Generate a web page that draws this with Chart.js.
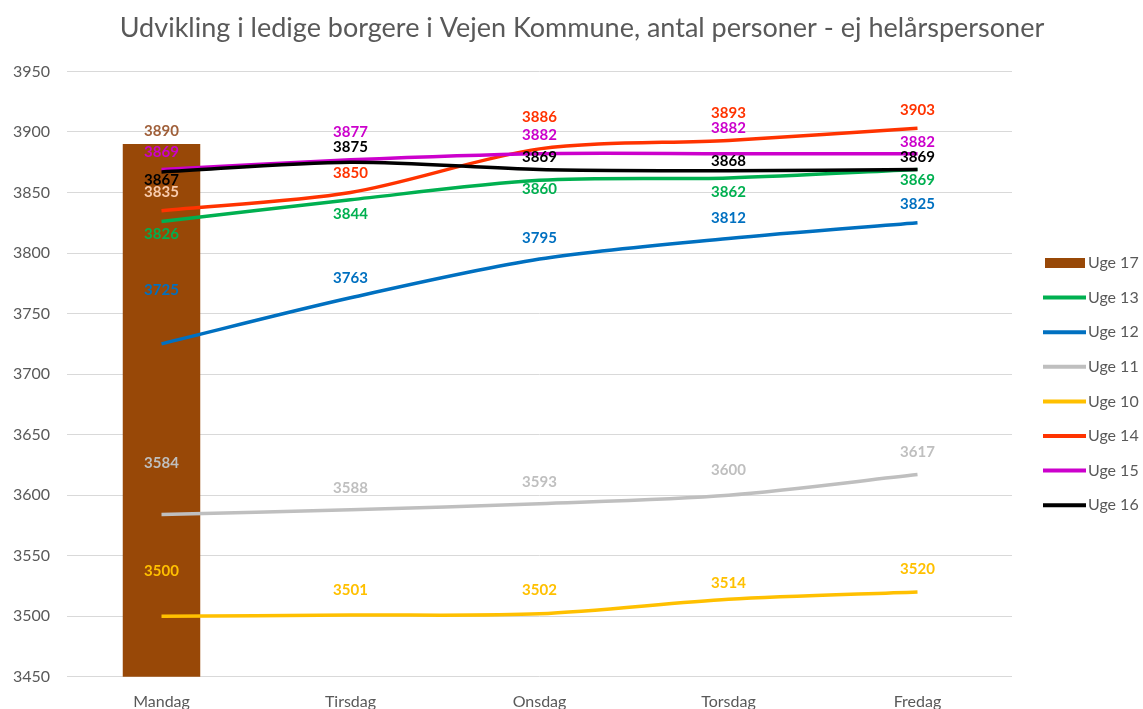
<!DOCTYPE html>
<html>
<head>
<meta charset="utf-8">
<script src="https://cdn.jsdelivr.net/npm/chart.js@4"></script>
<style>
    html, body { margin: 0; padding: 0; background: #fff; overflow: hidden; }
    #wrap { width: 1143px; height: 718px; }
</style>
</head>
<body>
<div id="wrap"><canvas id="chart"></canvas></div>
<script>
// Data
var days = ['Mandag', 'Tirsdag', 'Onsdag', 'Torsdag', 'Fredag'];
var uge17 = [3890, null, null, null, null];
var uge13 = [3826, 3844, 3860, 3862, 3869];
var uge12 = [3725, 3763, 3795, 3812, 3825];
var uge11 = [3584, 3588, 3593, 3600, 3617];
var uge10 = [3500, 3501, 3502, 3514, 3520];
var uge14 = [3835, 3850, 3886, 3893, 3903];
var uge15 = [3869, 3877, 3882, 3882, 3882];
var uge16 = [3867, 3875, 3869, 3868, 3869];
var yTicks = [3450, 3500, 3550, 3600, 3650, 3700, 3750, 3800, 3850, 3900, 3950];

var FONT = 'Lato';
var GREY = '#595959';

function lineSet(label, data, color, dy, order) {
    return {
        type: 'line',
        label: label,
        data: data,
        borderColor: color,
        backgroundColor: color,
        borderWidth: 3.5,
        pointRadius: 0,
        tension: 0.3,
        order: order,
        labelDy: dy
    };
}

// Draws the value labels next to each point
var valueLabels = {
    id: 'valueLabels',
    afterDatasetsDraw: function(chart) {
        var ctx = chart.ctx;
        ctx.save();
        ctx.font = 'bold 15px ' + FONT;
        ctx.textAlign = 'center';
        ctx.textBaseline = 'middle';
        chart.data.datasets.forEach(function(ds, i) {
            var meta = chart.getDatasetMeta(i);
            meta.data.forEach(function(el, j) {
                var v = ds.data[j];
                if (v === null || v === undefined) return;
                ctx.fillStyle = (ds.labelColors && ds.labelColors[j]) || ds.labelColor || ds.borderColor;
                ctx.fillText(v, el.x, el.y + ds.labelDy[j]);
            });
        });
        ctx.restore();
    }
};

// Legend on the right, drawn by hand so the sample/text spacing matches
var sideLegend = {
    id: 'sideLegend',
    afterDraw: function(chart) {
        var ctx = chart.ctx;
        var x0 = chart.chartArea.right + 31;
        var y0 = 263;
        ctx.save();
        ctx.font = '16px ' + FONT;
        ctx.textAlign = 'left';
        ctx.textBaseline = 'middle';
        chart.data.datasets.forEach(function(ds, i) {
            var y = y0 + i * 34.6;
            if (ds.type === 'bar') {
                ctx.fillStyle = ds.backgroundColor;
                ctx.fillRect(x0 + 2, y - 5, 40, 10);
            } else {
                ctx.strokeStyle = ds.borderColor;
                ctx.lineWidth = 4;
                ctx.beginPath();
                ctx.moveTo(x0, y);
                ctx.lineTo(x0 + 43, y);
                ctx.stroke();
            }
            ctx.fillStyle = GREY;
            ctx.fillText(ds.label, x0 + 45, y);
        });
        ctx.restore();
    }
};

// Nudge the title to where the original has it
var nudge = {
    id: 'nudge',
    afterLayout: function(chart) {
        chart.titleBlock.left += 70;
        chart.titleBlock.right += 70;
    }
};

var ctx = document.getElementById('chart');
var myChart = new Chart(ctx, {
    type: 'bar',
    data: {
        labels: days,
        datasets: [
            {
                type: 'bar',
                label: 'Uge 17',
                data: uge17,
                backgroundColor: '#984807',
                borderColor: '#984807',
                barPercentage: 0.41,
                categoryPercentage: 1,
                order: 20,
                labelColor: '#a0603a',
                labelDy: [-13, 0, 0, 0, 0]
            },
            lineSet('Uge 13', uge13, '#00b050', [13, 14, 9, 14, 11], 8),
            lineSet('Uge 12', uge12, '#0070c0', [-54, -20, -21, -20, -19], 7),
            lineSet('Uge 11', uge11, '#bfbfbf', [-51, -22, -21, -25, -22], 6),
            lineSet('Uge 10', uge10, '#ffc000', [-45, -25, -24, -16, -23], 5),
            Object.assign(lineSet('Uge 14', uge14, '#ff3300', [-18, -19, -32, -27, -18], 4),
                { labelColors: ['#f8cbad', null, null, null, null] }),
            lineSet('Uge 15', uge15, '#cc00cc', [-17, -28, -19, -26, -12], 3),
            lineSet('Uge 16', uge16, '#000000', [8, -15, -12, -10, -12], 2)
        ]
    },
    options: {
        responsive: true,
        maintainAspectRatio: false,
        animation: false,
        layout: { padding: { left: 12, right: 131, top: 0, bottom: 0 } },
        plugins: {
            title: {
                display: true,
                text: 'Udvikling i ledige borgere i Vejen Kommune, antal personer - ej helårspersoner',
                color: GREY,
                font: { family: FONT, size: 27, weight: 'normal' },
                padding: { top: 12, bottom: 27 }
            },
            legend: { display: false },
            tooltip: { enabled: false }
        },
        scales: {
            x: {
                grid: { display: false },
                border: { display: false },
                ticks: { color: GREY, font: { family: FONT, size: 16 }, padding: 7 }
            },
            y: {
                min: 3450,
                max: 3950,
                afterBuildTicks: function(axis) {
                    axis.ticks = yTicks.map(function(v) { return { value: v }; });
                },
                afterFit: function(axis) { axis.width = 55; },
                grid: { color: '#d9d9d9', drawTicks: false, lineWidth: 1 },
                border: { display: false },
                ticks: {
                    color: GREY,
                    font: { family: FONT, size: 16 },
                    padding: 17,
                    callback: function(v) { return String(v); }
                }
            }
        }
    },
    plugins: [valueLabels, sideLegend, nudge]
});
</script>
</body>
</html>
